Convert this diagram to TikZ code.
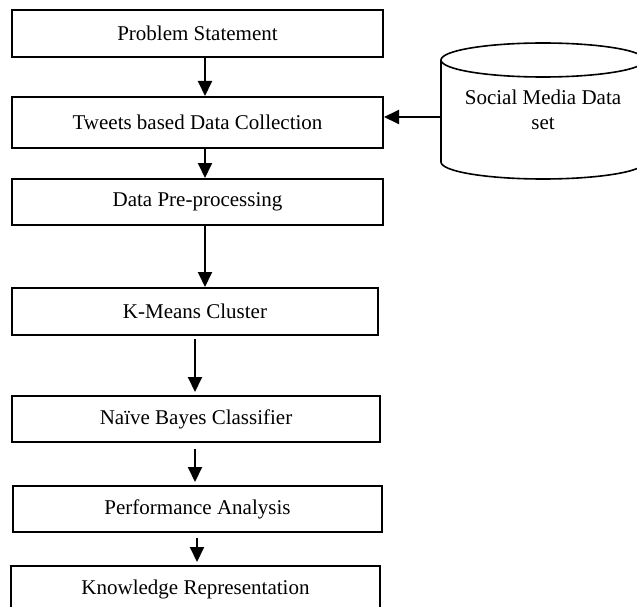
\documentclass[tikz,border=0pt]{standalone}
\usepackage{fontspec}
\setmainfont{Liberation Serif}
\usetikzlibrary{arrows.meta}
\begin{document}
\begin{tikzpicture}[x=1pt,y=-1pt,
  font=\fontsize{21}{25}\selectfont,
  stepbox/.style={draw, line width=2pt, rectangle, inner sep=0pt, minimum height=47pt},
  arr/.style={line width=2pt, -{Triangle[width=14pt,length=15pt]}},
  dbline/.style={line width=1.6pt}]
\useasboundingbox (0,0) rectangle (637,607);
\clip (0,0) rectangle (637,607);
\fill[white] (0,0) rectangle (637,607);

\node[stepbox, minimum width=371pt] (b1) at (197.5,33.5) {Problem Statement};
\node[stepbox, minimum width=371pt, minimum height=51pt] (b2) at (197.5,122.5) {Tweets based Data Collection};
\node[stepbox, minimum width=371pt, minimum height=46pt] (b3) at (197.5,202) {Data Pre-processing};
\node[stepbox, minimum width=366pt] (b4) at (195,311.5) {K-Means Cluster};
\node[stepbox, minimum width=368pt, minimum height=46pt] (b5) at (196,419) {Naïve Bayes Classifier};
\node[stepbox, minimum width=369pt, minimum height=46pt] (b6) at (197.5,509) {Performance Analysis};
\node[stepbox, minimum width=369pt] (b7) at (195.5,589.5) {Knowledge Representation};

% cylinder
\draw[dbline, fill=white] (441,60) -- (441,162) arc[start angle=180, end angle=0, x radius=102, y radius=17] -- (645,60);
\draw[dbline] (543,60) ellipse [x radius=102, y radius=17];
\node[align=center, inner sep=0pt] (db) at (543,110) {Social Media Data\\set};
\coordinate (dbl) at (441,117);

\draw[arr] (dbl) -- (b2.east |- dbl);
\draw[arr] ([xshift=7.5pt]b1.south) -- ([xshift=7.5pt]b2.north);
\draw[arr] ([xshift=7.5pt]b2.south) -- ([xshift=7.5pt]b3.north);
\draw[arr] ([xshift=7.5pt]b3.south) -- ([xshift=10pt]b4.north);
\draw[arr] ([yshift=-3pt]b4.south) -- ([xshift=-1pt,yshift=3pt]b5.north);
\draw[arr] ([xshift=-1pt,yshift=-6pt]b5.south) -- ([xshift=-2.5pt,yshift=3pt]b6.north);
\draw[arr] ([xshift=-0.5pt,yshift=-5pt]b6.south) -- ([xshift=1.5pt,yshift=3pt]b7.north);
\end{tikzpicture}
\end{document}
